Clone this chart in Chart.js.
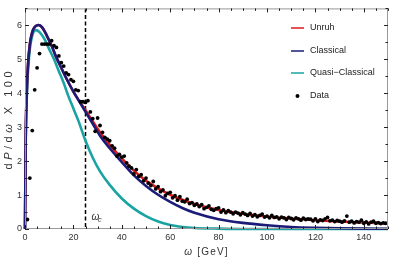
<!DOCTYPE html>
<html>
<head>
<meta charset="utf-8">
<script src="https://cdn.jsdelivr.net/npm/chart.js@4.4.0/dist/chart.umd.min.js"></script>
<style>
html, body { margin: 0; padding: 0; background: #fff; }
</style>
</head>
<body>
<canvas id="chart" width="394" height="263"></canvas>
<script>
// curve knots (omega in GeV, dP/dw x 100)
const curveOmega = [0, 0.3, 0.7, 1.2, 2, 3, 4, 5.5, 7, 9, 11, 13, 15, 17, 20, 22.5, 25, 28, 31, 35, 40, 45, 50, 55, 60, 65, 70, 80, 90, 100, 110, 120, 130, 140, 150];
const unruhValues = [0, 2.7, 4.0, 4.8, 5.45, 5.8, 5.95, 6.01, 5.95, 5.7, 5.4, 5.05, 4.75, 4.45, 4.05, 3.76, 3.5, 3.17, 2.85, 2.48, 2.08, 1.72, 1.42, 1.2, 1.01, 0.86, 0.74, 0.56, 0.45, 0.37, 0.31, 0.26, 0.22, 0.19, 0.16];
const classicalValues = [0, 2.7, 4.0, 4.8, 5.45, 5.8, 5.95, 6.01, 5.95, 5.7, 5.4, 5.05, 4.75, 4.45, 4.05, 3.75, 3.45, 3.1, 2.75, 2.38, 1.97, 1.58, 1.27, 1.01, 0.8, 0.62, 0.48, 0.29, 0.18, 0.11, 0.06, 0.035, 0.02, 0.012, 0.007];

const quasiOmega = [0, 0.3, 0.7, 1.2, 2, 3, 4.5, 6, 8, 10, 12, 14, 16, 18, 20, 22, 25, 28, 31, 35, 40, 45, 50, 55, 60, 65, 70, 80, 90, 150];
const quasiValues = [0, 2.5, 3.8, 4.6, 5.3, 5.7, 5.86, 5.8, 5.6, 5.3, 5.0, 4.65, 4.3, 3.9, 3.55, 3.2, 2.6, 2.1, 1.7, 1.3, 0.9, 0.6, 0.38, 0.22, 0.12, 0.06, 0.03, 0.01, 0, 0];

// data points, one per GeV bin starting at 1 GeV
const dataValues = [
  0.28, 1.5, 2.9, 4.1, 4.75, 5.17, 5.45, 5.45, 5.45, 5.45,
  5.55, 5.4, 5.35, 5.1, 4.9, 4.8, 4.6, 4.55, 4.4, 4.35,
  4.1, 4.08, 3.75, 3.75, 3.73, 3.78, 3.45, 3.25, 2.88, 3.27,
  3.05, 2.85, 2.7, 2.65, 2.6, 2.45, 2.38, 2.15, 2.2, 2.12,
  2.15, 1.95, 1.85, 1.8, 1.62, 1.75, 1.55, 1.6, 1.42, 1.5,
  1.35, 1.28, 1.4, 1.18, 1.25, 1.1, 1.15, 0.98, 1.05, 1.08,
  0.92, 0.98, 0.85, 0.95, 0.82, 0.8, 0.88, 0.75, 0.78, 0.7,
  0.74, 0.66, 0.72, 0.6, 0.64, 0.68, 0.58, 0.55, 0.6, 0.62,
  0.5, 0.56, 0.48, 0.54, 0.5, 0.45, 0.5, 0.47, 0.42, 0.48,
  0.44, 0.4, 0.46, 0.38, 0.42, 0.36, 0.4, 0.44, 0.35, 0.38,
  0.33, 0.4, 0.34, 0.36, 0.3, 0.35, 0.33, 0.28, 0.34, 0.31,
  0.27, 0.33, 0.3, 0.26, 0.32, 0.28, 0.3, 0.29, 0.24, 0.3,
  0.22, 0.27, 0.25, 0.3, 0.34, 0.24, 0.26, 0.22, 0.25, 0.23,
  0.2, 0.24, 0.38, 0.2, 0.23, 0.18, 0.22, 0.2, 0.26, 0.17,
  0.21, 0.15, 0.2, 0.23, 0.17, 0.19, 0.16, 0.18, 0.17
];

const omegaC = 25;
const legendNames = ['Unruh', 'Classical', 'Quasi\u2212Classical', 'Data'];

const FONT = '"Liberation Sans", Arial, sans-serif';
const colRed = '#dc1a1a';
const colNavy = '#1b1b78';
const colTeal = '#1aa3a3';

function pts(xs, ys) {
    return xs.map((x, i) => ({x: x, y: ys[i]}));
}

function drawParts(ctx, parts, x, y, size, spacing) {
    // parts: [text, italic]
    ctx.letterSpacing = spacing + 'px';
    let w = 0;
    for (const p of parts) {
        ctx.font = (p[1] ? 'italic ' : '') + size + 'px ' + FONT;
        w += ctx.measureText(p[0]).width;
    }
    let cx = x - w / 2;
    for (const p of parts) {
        ctx.font = (p[1] ? 'italic ' : '') + size + 'px ' + FONT;
        ctx.fillText(p[0], cx, y);
        cx += ctx.measureText(p[0]).width;
    }
    ctx.letterSpacing = '0px';
}

const decor = {
    id: 'decor',
    beforeDatasetsDraw(chart) {
        const {ctx, chartArea: a, scales: {x}} = chart;
        const px = x.getPixelForValue(omegaC);
        ctx.save();
        ctx.strokeStyle = '#000';
        ctx.lineWidth = 1.5;
        ctx.setLineDash([4, 2.5]);
        ctx.beginPath();
        ctx.moveTo(px, a.top);
        ctx.lineTo(px, a.bottom);
        ctx.stroke();
        ctx.setLineDash([]);
        ctx.fillStyle = '#333';
        ctx.textBaseline = 'alphabetic';
        ctx.font = 'italic 10px ' + FONT;
        ctx.fillText('\u03C9', px + 6, a.bottom - 9);
        ctx.font = 'italic 7px ' + FONT;
        ctx.fillText('c', px + 12.5, a.bottom - 7.5);
        ctx.restore();
    },
    afterDraw(chart) {
        const {ctx, chartArea: a, scales: {x, y}} = chart;
        ctx.save();
        // frame
        ctx.strokeStyle = '#999';
        ctx.lineWidth = 1;
        ctx.strokeRect(a.left + 0.5, a.top + 0.5, a.right - a.left - 1, a.bottom - a.top - 1);
        // inward ticks
        ctx.strokeStyle = '#222';
        ctx.beginPath();
        for (let v = 0; v <= 150; v += 5) {
            const p = Math.round(x.getPixelForValue(v)) + 0.5;
            const len = v % 20 === 0 ? 4 : 2.5;
            ctx.moveTo(p, a.bottom); ctx.lineTo(p, a.bottom - len);
            ctx.moveTo(p, a.top); ctx.lineTo(p, a.top + len);
        }
        for (let v = 0; v <= 6.5; v += 0.5) {
            const p = Math.round(y.getPixelForValue(v)) + 0.5;
            const len = v % 1 === 0 ? 4 : 2.5;
            ctx.moveTo(a.left, p); ctx.lineTo(a.left + len, p);
            ctx.moveTo(a.right, p); ctx.lineTo(a.right - len, p);
        }
        ctx.stroke();

        // legend
        const sets = chart.data.datasets;
        const lx = 291, tx = 310, rows = [28, 51, 73, 96];
        const order = [2, 1, 3, 0];
        ctx.textBaseline = 'middle';
        ctx.font = '9px ' + FONT;
        order.forEach((di, i) => {
            const ds = sets[di];
            if (di === 0) {
                ctx.fillStyle = '#000';
                ctx.beginPath();
                ctx.arc(lx + 6.5, rows[i], 2, 0, Math.PI * 2);
                ctx.fill();
            } else {
                ctx.strokeStyle = ds.borderColor;
                ctx.lineWidth = 1.5;
                ctx.beginPath();
                ctx.moveTo(lx, rows[i]);
                ctx.lineTo(lx + 13, rows[i]);
                ctx.stroke();
            }
            ctx.fillStyle = '#222';
            ctx.fillText(legendNames[i], tx, rows[i]);
        });

        // axis titles
        ctx.fillStyle = '#333';
        ctx.textBaseline = 'middle';
        drawParts(ctx, [['\u03C9', true], [' [GeV]', false]], (a.left + a.right) / 2, 252, 10, 1.2);
        ctx.translate(9, (a.top + a.bottom) / 2);
        ctx.rotate(-Math.PI / 2);
        drawParts(ctx, [['d', false], ['P', true], ['/d', false], ['\u03C9', true], [' X 100', false]], 0, 0, 11, 3.5);
        ctx.restore();
    }
};

const ctx = document.getElementById('chart');
new Chart(ctx, {
    type: 'scatter',
    data: {
        datasets: [
            {
                label: 'Data',
                data: dataValues.map((v, i) => ({x: i + 1, y: v})),
                backgroundColor: '#000',
                borderColor: '#000',
                pointRadius: 1.9,
                borderWidth: 0,
                showLine: false
            },
            {
                label: 'Classical',
                data: pts(curveOmega, classicalValues),
                borderColor: colNavy,
                borderWidth: 2.6,
                pointRadius: 0,
                showLine: true,
                cubicInterpolationMode: 'monotone'
            },
            {
                label: 'Unruh',
                data: pts(curveOmega, unruhValues),
                borderColor: colRed,
                borderWidth: 2.6,
                pointRadius: 0,
                showLine: true,
                cubicInterpolationMode: 'monotone'
            },
            {
                label: 'Quasi-Classical',
                data: pts(quasiOmega, quasiValues),
                borderColor: colTeal,
                borderWidth: 2.6,
                pointRadius: 0,
                showLine: true,
                cubicInterpolationMode: 'monotone'
            }
        ]
    },
    options: {
        responsive: false,
        animation: false,
        clip: false,
        layout: {
            padding: {left: 0, right: 6, top: 5, bottom: 0}
        },
        plugins: {
            legend: {display: false},
            tooltip: {enabled: false}
        },
        scales: {
            x: {
                type: 'linear',
                min: 0,
                max: 150,
                grid: {display: false, drawTicks: false},
                border: {display: false},
                ticks: {
                    stepSize: 20,
                    includeBounds: false,
                    padding: 3,
                    maxRotation: 0,
                    color: '#333',
                    font: {family: FONT, size: 9}
                },
                afterFit(scale) { scale.height = 34; }
            },
            y: {
                type: 'linear',
                min: 0,
                max: 6.5,
                grid: {display: false, drawTicks: false},
                border: {display: false},
                ticks: {
                    stepSize: 1,
                    includeBounds: false,
                    padding: 3,
                    color: '#333',
                    font: {family: FONT, size: 9}
                },
                afterFit(scale) { scale.width = 25; }
            }
        }
    },
    plugins: [decor]
});
</script>
</body>
</html>
